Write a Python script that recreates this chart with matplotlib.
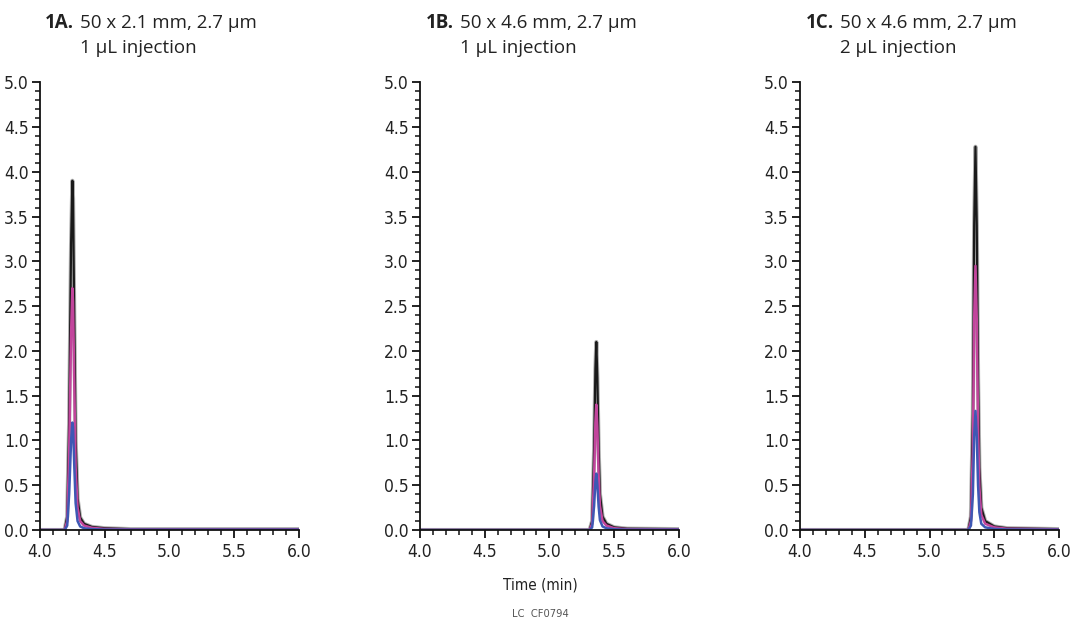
import matplotlib
matplotlib.use("Agg")
import matplotlib.pyplot as plt
from matplotlib import font_manager
from matplotlib.ticker import MultipleLocator

# chromatogram traces (time in min, signal)
t_a = [4.0, 4.19, 4.21, 4.225, 4.24, 4.25, 4.255, 4.265, 4.275, 4.29, 4.31, 4.34, 4.40, 4.50, 4.70, 6.0]
black_a = [0.0, 0.0, 0.15, 1.2, 3.2, 3.9, 3.7, 2.3, 1.0, 0.35, 0.14, 0.07, 0.035, 0.02, 0.01, 0.01]
pink_a = [0.0, 0.0, 0.1, 0.85, 2.2, 2.7, 2.55, 1.6, 0.7, 0.25, 0.1, 0.05, 0.025, 0.012, 0.008, 0.008]
blue_a = [0.0, 0.0, 0.05, 0.4, 1.0, 1.2, 1.15, 0.7, 0.3, 0.1, 0.04, 0.02, 0.01, 0.005, 0.004, 0.004]

t_b = [4.0, 5.31, 5.33, 5.345, 5.355, 5.362, 5.37, 5.38, 5.39, 5.41, 5.44, 5.50, 5.60, 6.0]
black_b = [0.0, 0.0, 0.1, 0.9, 1.8, 2.1, 1.7, 0.9, 0.4, 0.15, 0.07, 0.03, 0.015, 0.01]
pink_b = [0.0, 0.0, 0.07, 0.6, 1.2, 1.4, 1.15, 0.6, 0.27, 0.1, 0.05, 0.02, 0.01, 0.008]
blue_b = [0.0, 0.0, 0.03, 0.27, 0.54, 0.63, 0.5, 0.26, 0.11, 0.04, 0.02, 0.008, 0.004, 0.004]

t_c = [4.0, 5.30, 5.32, 5.335, 5.345, 5.355, 5.365, 5.375, 5.385, 5.40, 5.43, 5.50, 5.60, 6.0]
black_c = [0.0, 0.0, 0.15, 1.3, 3.4, 4.28, 3.4, 1.7, 0.7, 0.25, 0.1, 0.04, 0.02, 0.01]
pink_c = [0.0, 0.0, 0.1, 0.9, 2.35, 2.95, 2.35, 1.15, 0.48, 0.17, 0.07, 0.03, 0.014, 0.008]
blue_c = [0.0, 0.0, 0.05, 0.4, 1.05, 1.33, 1.05, 0.5, 0.2, 0.07, 0.03, 0.012, 0.006, 0.004]

panels = [
    ("1A.", "50 x 2.1 mm, 2.7 \u00b5m", "1 \u00b5L injection", t_a, black_a, pink_a, blue_a),
    ("1B.", "50 x 4.6 mm, 2.7 \u00b5m", "1 \u00b5L injection", t_b, black_b, pink_b, blue_b),
    ("1C.", "50 x 4.6 mm, 2.7 \u00b5m", "2 \u00b5L injection", t_c, black_c, pink_c, blue_c),
]

# condensed face for the ticks if the system has one
names = {f.name for f in font_manager.fontManager.ttflist}
if "Liberation Sans Narrow" in names:
    tick_font = ["Liberation Sans Narrow", "DejaVu Sans"]
    tick_stretch = "normal"
else:
    tick_font = ["DejaVu Sans"]
    tick_stretch = "condensed"
title_font = ["Open Sans", "DejaVu Sans"]

fig = plt.figure(figsize=(10.7, 6.28), dpi=100)
lefts = [0.0374, 0.3925, 0.7477]

for left, (tag, line1, line2, t, k, p, b) in zip(lefts, panels):
    ax = fig.add_axes([left, 0.156, 0.242, 0.713])
    ax.plot(t, k, color="#b0b0b0", lw=3.0, solid_joinstyle="round")
    ax.plot(t, k, color="#1a1a1a", lw=1.6)
    ax.plot(t, p, color="#c2459c", lw=1.8)
    ax.plot(t, b, color="#3e58b4", lw=1.8)
    ax.set_xlim(4, 6)
    ax.set_ylim(0, 5)
    ax.xaxis.set_major_locator(MultipleLocator(0.5))
    ax.xaxis.set_minor_locator(MultipleLocator(0.1))
    ax.yaxis.set_major_locator(MultipleLocator(0.5))
    ax.yaxis.set_minor_locator(MultipleLocator(0.1))
    ax.xaxis.set_major_formatter(lambda v, pos: f"{v:.1f}")
    ax.yaxis.set_major_formatter(lambda v, pos: f"{v:.1f}")
    for s in ("top", "right"):
        ax.spines[s].set_visible(False)
    for s in ("left", "bottom"):
        ax.spines[s].set_linewidth(1.3)
        ax.spines[s].set_color("#111111")
    ax.tick_params(which="major", length=6, width=1.3, color="#111111", pad=2)
    ax.tick_params(which="minor", length=3.5, width=1.1, color="#111111")
    for lab in ax.get_xticklabels() + ax.get_yticklabels():
        lab.set_family(tick_font)
        lab.set_stretch(tick_stretch)
        lab.set_fontsize(12.5)
        lab.set_color("#222222")
    ax.tick_params(axis="x", pad=3)

    # panel title: bold tag then regular text, second line under the regular text
    x0 = left + 0.0374
    fig.text(x0 - 0.0055, 0.956, tag, ha="right", va="baseline", fontsize=13.5,
             fontweight="bold", family=title_font, color="#222222")
    fig.text(x0, 0.956, line1, ha="left", va="baseline", fontsize=13.5,
             family=title_font, color="#222222")
    fig.text(x0, 0.915, line2, ha="left", va="baseline", fontsize=13.5,
             family=title_font, color="#222222")

fig.text(0.505, 0.068, "Time (min)", ha="center", va="center", fontsize=11,
         family=tick_font, stretch=tick_stretch, color="#222222")
fig.text(0.505, 0.022, "LC  CF0794", ha="center", va="center", fontsize=8,
         family=tick_font, stretch=tick_stretch, color="#555555")

fig.savefig("out.png", dpi=100)
